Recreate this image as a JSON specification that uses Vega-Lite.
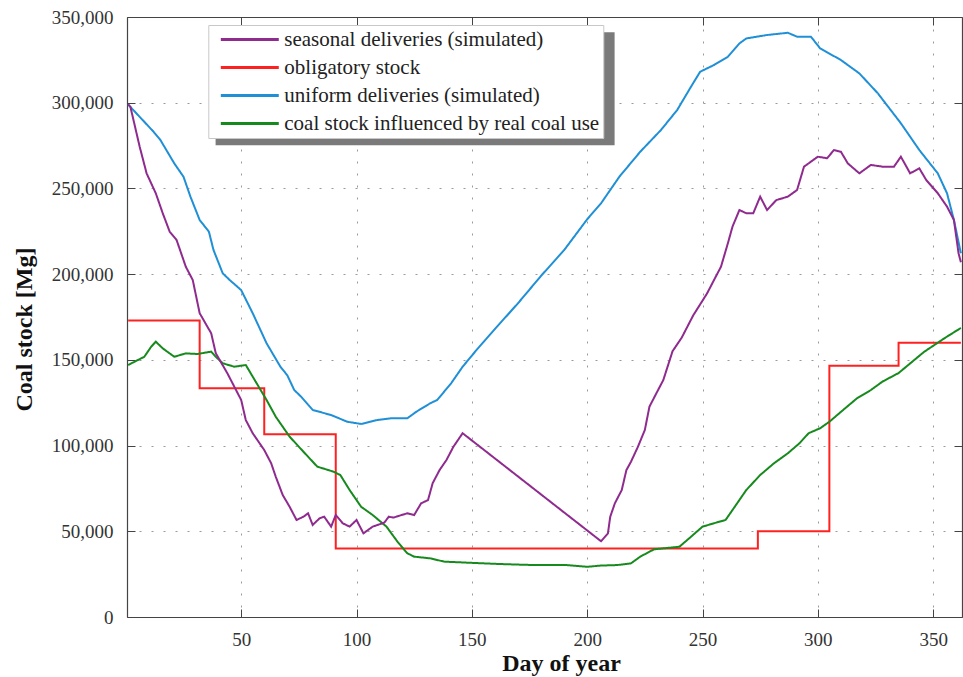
{
  "$schema": "https://vega.github.io/schema/vega-lite/v6.json",
  "width": 835,
  "height": 600,
  "autosize": {"type": "none"},
  "padding": {"left": 127, "top": 17, "right": 1, "bottom": 60},
  "background": "white",
  "config": {"view": {"stroke": null}, "font": "Liberation Serif"},
  "datasets": {
    "obligatory": [
      {"day": 1, "value": 173000, "series": "obligatory stock"},
      {"day": 32, "value": 133500, "series": "obligatory stock"},
      {"day": 60, "value": 106600, "series": "obligatory stock"},
      {"day": 91, "value": 40000, "series": "obligatory stock"},
      {"day": 274, "value": 50000, "series": "obligatory stock"},
      {"day": 305, "value": 146500, "series": "obligatory stock"},
      {"day": 335, "value": 160000, "series": "obligatory stock"},
      {"day": 362, "value": 160000, "series": "obligatory stock"}
    ],
    "curves": [
      {"day": 1, "value": 299000, "series": "uniform deliveries (simulated)"},
      {"day": 2, "value": 297500, "series": "uniform deliveries (simulated)"},
      {"day": 12, "value": 283100, "series": "uniform deliveries (simulated)"},
      {"day": 15, "value": 278200, "series": "uniform deliveries (simulated)"},
      {"day": 21, "value": 264600, "series": "uniform deliveries (simulated)"},
      {"day": 25, "value": 256800, "series": "uniform deliveries (simulated)"},
      {"day": 28, "value": 245200, "series": "uniform deliveries (simulated)"},
      {"day": 32, "value": 231600, "series": "uniform deliveries (simulated)"},
      {"day": 36, "value": 224800, "series": "uniform deliveries (simulated)"},
      {"day": 38, "value": 214100, "series": "uniform deliveries (simulated)"},
      {"day": 42, "value": 200500, "series": "uniform deliveries (simulated)"},
      {"day": 45, "value": 196600, "series": "uniform deliveries (simulated)"},
      {"day": 50, "value": 190700, "series": "uniform deliveries (simulated)"},
      {"day": 55, "value": 177200, "series": "uniform deliveries (simulated)"},
      {"day": 61, "value": 159700, "series": "uniform deliveries (simulated)"},
      {"day": 67, "value": 146000, "series": "uniform deliveries (simulated)"},
      {"day": 70, "value": 141000, "series": "uniform deliveries (simulated)"},
      {"day": 73, "value": 132400, "series": "uniform deliveries (simulated)"},
      {"day": 76, "value": 128500, "series": "uniform deliveries (simulated)"},
      {"day": 81, "value": 120800, "series": "uniform deliveries (simulated)"},
      {"day": 89, "value": 117800, "series": "uniform deliveries (simulated)"},
      {"day": 96, "value": 113900, "series": "uniform deliveries (simulated)"},
      {"day": 102, "value": 112600, "series": "uniform deliveries (simulated)"},
      {"day": 109, "value": 114900, "series": "uniform deliveries (simulated)"},
      {"day": 115, "value": 115900, "series": "uniform deliveries (simulated)"},
      {"day": 122, "value": 115900, "series": "uniform deliveries (simulated)"},
      {"day": 126, "value": 119800, "series": "uniform deliveries (simulated)"},
      {"day": 132, "value": 124700, "series": "uniform deliveries (simulated)"},
      {"day": 135, "value": 126600, "series": "uniform deliveries (simulated)"},
      {"day": 141, "value": 136300, "series": "uniform deliveries (simulated)"},
      {"day": 146, "value": 146000, "series": "uniform deliveries (simulated)"},
      {"day": 152, "value": 155700, "series": "uniform deliveries (simulated)"},
      {"day": 160, "value": 168000, "series": "uniform deliveries (simulated)"},
      {"day": 170, "value": 183000, "series": "uniform deliveries (simulated)"},
      {"day": 180, "value": 199000, "series": "uniform deliveries (simulated)"},
      {"day": 190, "value": 214000, "series": "uniform deliveries (simulated)"},
      {"day": 200, "value": 232000, "series": "uniform deliveries (simulated)"},
      {"day": 206, "value": 241300, "series": "uniform deliveries (simulated)"},
      {"day": 214, "value": 256900, "series": "uniform deliveries (simulated)"},
      {"day": 223, "value": 271400, "series": "uniform deliveries (simulated)"},
      {"day": 232, "value": 284100, "series": "uniform deliveries (simulated)"},
      {"day": 239, "value": 295700, "series": "uniform deliveries (simulated)"},
      {"day": 245, "value": 309300, "series": "uniform deliveries (simulated)"},
      {"day": 249, "value": 318100, "series": "uniform deliveries (simulated)"},
      {"day": 255, "value": 322000, "series": "uniform deliveries (simulated)"},
      {"day": 261, "value": 326800, "series": "uniform deliveries (simulated)"},
      {"day": 266, "value": 334600, "series": "uniform deliveries (simulated)"},
      {"day": 269, "value": 337500, "series": "uniform deliveries (simulated)"},
      {"day": 278, "value": 339500, "series": "uniform deliveries (simulated)"},
      {"day": 287, "value": 340800, "series": "uniform deliveries (simulated)"},
      {"day": 291, "value": 338500, "series": "uniform deliveries (simulated)"},
      {"day": 297, "value": 338500, "series": "uniform deliveries (simulated)"},
      {"day": 301, "value": 331700, "series": "uniform deliveries (simulated)"},
      {"day": 310, "value": 324900, "series": "uniform deliveries (simulated)"},
      {"day": 318, "value": 317100, "series": "uniform deliveries (simulated)"},
      {"day": 326, "value": 305500, "series": "uniform deliveries (simulated)"},
      {"day": 336, "value": 288000, "series": "uniform deliveries (simulated)"},
      {"day": 344, "value": 272400, "series": "uniform deliveries (simulated)"},
      {"day": 352, "value": 258800, "series": "uniform deliveries (simulated)"},
      {"day": 356, "value": 247200, "series": "uniform deliveries (simulated)"},
      {"day": 359, "value": 231600, "series": "uniform deliveries (simulated)"},
      {"day": 362, "value": 212200, "series": "uniform deliveries (simulated)"},

      {"day": 1, "value": 147000, "series": "coal stock influenced by real coal use"},
      {"day": 8, "value": 151800, "series": "coal stock influenced by real coal use"},
      {"day": 11, "value": 157700, "series": "coal stock influenced by real coal use"},
      {"day": 13, "value": 160600, "series": "coal stock influenced by real coal use"},
      {"day": 16, "value": 156700, "series": "coal stock influenced by real coal use"},
      {"day": 21, "value": 151800, "series": "coal stock influenced by real coal use"},
      {"day": 26, "value": 153800, "series": "coal stock influenced by real coal use"},
      {"day": 31, "value": 153400, "series": "coal stock influenced by real coal use"},
      {"day": 37, "value": 154800, "series": "coal stock influenced by real coal use"},
      {"day": 39, "value": 151800, "series": "coal stock influenced by real coal use"},
      {"day": 42, "value": 148000, "series": "coal stock influenced by real coal use"},
      {"day": 47, "value": 146000, "series": "coal stock influenced by real coal use"},
      {"day": 52, "value": 147000, "series": "coal stock influenced by real coal use"},
      {"day": 55, "value": 140200, "series": "coal stock influenced by real coal use"},
      {"day": 61, "value": 126600, "series": "coal stock influenced by real coal use"},
      {"day": 65, "value": 116800, "series": "coal stock influenced by real coal use"},
      {"day": 71, "value": 105200, "series": "coal stock influenced by real coal use"},
      {"day": 77, "value": 96400, "series": "coal stock influenced by real coal use"},
      {"day": 83, "value": 87700, "series": "coal stock influenced by real coal use"},
      {"day": 90, "value": 84800, "series": "coal stock influenced by real coal use"},
      {"day": 93, "value": 82800, "series": "coal stock influenced by real coal use"},
      {"day": 97, "value": 74100, "series": "coal stock influenced by real coal use"},
      {"day": 102, "value": 64300, "series": "coal stock influenced by real coal use"},
      {"day": 107, "value": 59500, "series": "coal stock influenced by real coal use"},
      {"day": 113, "value": 52700, "series": "coal stock influenced by real coal use"},
      {"day": 118, "value": 43500, "series": "coal stock influenced by real coal use"},
      {"day": 122, "value": 37200, "series": "coal stock influenced by real coal use"},
      {"day": 125, "value": 35200, "series": "coal stock influenced by real coal use"},
      {"day": 132, "value": 34200, "series": "coal stock influenced by real coal use"},
      {"day": 138, "value": 32300, "series": "coal stock influenced by real coal use"},
      {"day": 148, "value": 31700, "series": "coal stock influenced by real coal use"},
      {"day": 162, "value": 30900, "series": "coal stock influenced by real coal use"},
      {"day": 177, "value": 30300, "series": "coal stock influenced by real coal use"},
      {"day": 191, "value": 30300, "series": "coal stock influenced by real coal use"},
      {"day": 200, "value": 29300, "series": "coal stock influenced by real coal use"},
      {"day": 206, "value": 30000, "series": "coal stock influenced by real coal use"},
      {"day": 213, "value": 30300, "series": "coal stock influenced by real coal use"},
      {"day": 219, "value": 31300, "series": "coal stock influenced by real coal use"},
      {"day": 223, "value": 35200, "series": "coal stock influenced by real coal use"},
      {"day": 229, "value": 39500, "series": "coal stock influenced by real coal use"},
      {"day": 240, "value": 41000, "series": "coal stock influenced by real coal use"},
      {"day": 245, "value": 46800, "series": "coal stock influenced by real coal use"},
      {"day": 250, "value": 52700, "series": "coal stock influenced by real coal use"},
      {"day": 255, "value": 54700, "series": "coal stock influenced by real coal use"},
      {"day": 260, "value": 56600, "series": "coal stock influenced by real coal use"},
      {"day": 263, "value": 62400, "series": "coal stock influenced by real coal use"},
      {"day": 269, "value": 74100, "series": "coal stock influenced by real coal use"},
      {"day": 275, "value": 82800, "series": "coal stock influenced by real coal use"},
      {"day": 281, "value": 89700, "series": "coal stock influenced by real coal use"},
      {"day": 287, "value": 95500, "series": "coal stock influenced by real coal use"},
      {"day": 292, "value": 101300, "series": "coal stock influenced by real coal use"},
      {"day": 296, "value": 107200, "series": "coal stock influenced by real coal use"},
      {"day": 301, "value": 110100, "series": "coal stock influenced by real coal use"},
      {"day": 305, "value": 113900, "series": "coal stock influenced by real coal use"},
      {"day": 311, "value": 120800, "series": "coal stock influenced by real coal use"},
      {"day": 317, "value": 127600, "series": "coal stock influenced by real coal use"},
      {"day": 323, "value": 132400, "series": "coal stock influenced by real coal use"},
      {"day": 328, "value": 137300, "series": "coal stock influenced by real coal use"},
      {"day": 335, "value": 142300, "series": "coal stock influenced by real coal use"},
      {"day": 346, "value": 154600, "series": "coal stock influenced by real coal use"},
      {"day": 355, "value": 162700, "series": "coal stock influenced by real coal use"},
      {"day": 362, "value": 168600, "series": "coal stock influenced by real coal use"},

      {"day": 1, "value": 299000, "series": "seasonal deliveries (simulated)"},
      {"day": 2, "value": 297500, "series": "seasonal deliveries (simulated)"},
      {"day": 6, "value": 274300, "series": "seasonal deliveries (simulated)"},
      {"day": 9, "value": 258800, "series": "seasonal deliveries (simulated)"},
      {"day": 13, "value": 247100, "series": "seasonal deliveries (simulated)"},
      {"day": 16, "value": 235500, "series": "seasonal deliveries (simulated)"},
      {"day": 19, "value": 224800, "series": "seasonal deliveries (simulated)"},
      {"day": 22, "value": 219900, "series": "seasonal deliveries (simulated)"},
      {"day": 26, "value": 204300, "series": "seasonal deliveries (simulated)"},
      {"day": 29, "value": 196600, "series": "seasonal deliveries (simulated)"},
      {"day": 32, "value": 177200, "series": "seasonal deliveries (simulated)"},
      {"day": 37, "value": 165500, "series": "seasonal deliveries (simulated)"},
      {"day": 39, "value": 153800, "series": "seasonal deliveries (simulated)"},
      {"day": 44, "value": 142200, "series": "seasonal deliveries (simulated)"},
      {"day": 50, "value": 126600, "series": "seasonal deliveries (simulated)"},
      {"day": 52, "value": 114900, "series": "seasonal deliveries (simulated)"},
      {"day": 55, "value": 107200, "series": "seasonal deliveries (simulated)"},
      {"day": 60, "value": 97400, "series": "seasonal deliveries (simulated)"},
      {"day": 63, "value": 89700, "series": "seasonal deliveries (simulated)"},
      {"day": 65, "value": 81800, "series": "seasonal deliveries (simulated)"},
      {"day": 68, "value": 71200, "series": "seasonal deliveries (simulated)"},
      {"day": 71, "value": 64300, "series": "seasonal deliveries (simulated)"},
      {"day": 74, "value": 56600, "series": "seasonal deliveries (simulated)"},
      {"day": 77, "value": 58500, "series": "seasonal deliveries (simulated)"},
      {"day": 79, "value": 60500, "series": "seasonal deliveries (simulated)"},
      {"day": 81, "value": 53700, "series": "seasonal deliveries (simulated)"},
      {"day": 84, "value": 57600, "series": "seasonal deliveries (simulated)"},
      {"day": 86, "value": 58500, "series": "seasonal deliveries (simulated)"},
      {"day": 89, "value": 52700, "series": "seasonal deliveries (simulated)"},
      {"day": 91, "value": 59500, "series": "seasonal deliveries (simulated)"},
      {"day": 94, "value": 54700, "series": "seasonal deliveries (simulated)"},
      {"day": 97, "value": 52700, "series": "seasonal deliveries (simulated)"},
      {"day": 100, "value": 56600, "series": "seasonal deliveries (simulated)"},
      {"day": 103, "value": 48800, "series": "seasonal deliveries (simulated)"},
      {"day": 107, "value": 52700, "series": "seasonal deliveries (simulated)"},
      {"day": 112, "value": 55000, "series": "seasonal deliveries (simulated)"},
      {"day": 114, "value": 58500, "series": "seasonal deliveries (simulated)"},
      {"day": 116, "value": 58000, "series": "seasonal deliveries (simulated)"},
      {"day": 122, "value": 60500, "series": "seasonal deliveries (simulated)"},
      {"day": 125, "value": 59500, "series": "seasonal deliveries (simulated)"},
      {"day": 128, "value": 66300, "series": "seasonal deliveries (simulated)"},
      {"day": 131, "value": 68200, "series": "seasonal deliveries (simulated)"},
      {"day": 133, "value": 78000, "series": "seasonal deliveries (simulated)"},
      {"day": 136, "value": 85700, "series": "seasonal deliveries (simulated)"},
      {"day": 139, "value": 91600, "series": "seasonal deliveries (simulated)"},
      {"day": 142, "value": 99300, "series": "seasonal deliveries (simulated)"},
      {"day": 146, "value": 107200, "series": "seasonal deliveries (simulated)"},
      {"day": 206, "value": 44200, "series": "seasonal deliveries (simulated)"},
      {"day": 209, "value": 48800, "series": "seasonal deliveries (simulated)"},
      {"day": 210, "value": 58500, "series": "seasonal deliveries (simulated)"},
      {"day": 212, "value": 66300, "series": "seasonal deliveries (simulated)"},
      {"day": 215, "value": 74100, "series": "seasonal deliveries (simulated)"},
      {"day": 217, "value": 85700, "series": "seasonal deliveries (simulated)"},
      {"day": 219, "value": 90600, "series": "seasonal deliveries (simulated)"},
      {"day": 222, "value": 99300, "series": "seasonal deliveries (simulated)"},
      {"day": 225, "value": 109100, "series": "seasonal deliveries (simulated)"},
      {"day": 227, "value": 122700, "series": "seasonal deliveries (simulated)"},
      {"day": 230, "value": 130500, "series": "seasonal deliveries (simulated)"},
      {"day": 233, "value": 138200, "series": "seasonal deliveries (simulated)"},
      {"day": 237, "value": 155000, "series": "seasonal deliveries (simulated)"},
      {"day": 241, "value": 163000, "series": "seasonal deliveries (simulated)"},
      {"day": 246, "value": 176000, "series": "seasonal deliveries (simulated)"},
      {"day": 252, "value": 188800, "series": "seasonal deliveries (simulated)"},
      {"day": 255, "value": 196600, "series": "seasonal deliveries (simulated)"},
      {"day": 258, "value": 204300, "series": "seasonal deliveries (simulated)"},
      {"day": 261, "value": 218000, "series": "seasonal deliveries (simulated)"},
      {"day": 263, "value": 227700, "series": "seasonal deliveries (simulated)"},
      {"day": 266, "value": 237400, "series": "seasonal deliveries (simulated)"},
      {"day": 269, "value": 235500, "series": "seasonal deliveries (simulated)"},
      {"day": 272, "value": 235500, "series": "seasonal deliveries (simulated)"},
      {"day": 275, "value": 245200, "series": "seasonal deliveries (simulated)"},
      {"day": 278, "value": 237400, "series": "seasonal deliveries (simulated)"},
      {"day": 282, "value": 243200, "series": "seasonal deliveries (simulated)"},
      {"day": 287, "value": 245200, "series": "seasonal deliveries (simulated)"},
      {"day": 291, "value": 249100, "series": "seasonal deliveries (simulated)"},
      {"day": 294, "value": 262700, "series": "seasonal deliveries (simulated)"},
      {"day": 300, "value": 268500, "series": "seasonal deliveries (simulated)"},
      {"day": 304, "value": 267600, "series": "seasonal deliveries (simulated)"},
      {"day": 307, "value": 272400, "series": "seasonal deliveries (simulated)"},
      {"day": 310, "value": 271400, "series": "seasonal deliveries (simulated)"},
      {"day": 313, "value": 264600, "series": "seasonal deliveries (simulated)"},
      {"day": 318, "value": 258800, "series": "seasonal deliveries (simulated)"},
      {"day": 323, "value": 263700, "series": "seasonal deliveries (simulated)"},
      {"day": 328, "value": 262700, "series": "seasonal deliveries (simulated)"},
      {"day": 333, "value": 262700, "series": "seasonal deliveries (simulated)"},
      {"day": 336, "value": 268500, "series": "seasonal deliveries (simulated)"},
      {"day": 340, "value": 258800, "series": "seasonal deliveries (simulated)"},
      {"day": 344, "value": 261700, "series": "seasonal deliveries (simulated)"},
      {"day": 347, "value": 254900, "series": "seasonal deliveries (simulated)"},
      {"day": 352, "value": 247200, "series": "seasonal deliveries (simulated)"},
      {"day": 356, "value": 239400, "series": "seasonal deliveries (simulated)"},
      {"day": 359, "value": 231600, "series": "seasonal deliveries (simulated)"},
      {"day": 361, "value": 212200, "series": "seasonal deliveries (simulated)"},
      {"day": 362, "value": 207000, "series": "seasonal deliveries (simulated)"}
    ]
  },
  "layer": [
    {
      "data": {"name": "obligatory"},
      "mark": {"type": "line", "interpolate": "step-after", "strokeWidth": 2, "clip": true},
      "encoding": {
        "x": {
          "field": "day", "type": "quantitative",
          "scale": {"domain": [0.5, 362.5], "nice": false, "zero": false},
          "axis": {
            "orient": "bottom", "values": [50, 100, 150, 200, 250, 300, 350],
            "grid": true, "gridDash": [2, 10], "gridColor": "#9a9a9a", "gridWidth": 1,
            "tickSize": -8, "tickColor": "#444", "domainColor": "#444", "domainWidth": 1.2,
            "labelPadding": 21, "labelFontSize": 19, "labelColor": "#333", "labelFont": "Liberation Serif",
            "title": "Day of year", "titleFont": "Liberation Serif", "titleFontSize": 24, "titleFontWeight": "bold",
            "titleColor": "#111", "titleX": 434, "titleY": 53, "titleBaseline": "alphabetic"
          }
        },
        "y": {
          "field": "value", "type": "quantitative",
          "scale": {"domain": [0, 350000], "nice": false},
          "axis": {
            "orient": "left", "values": [0, 50000, 100000, 150000, 200000, 250000, 300000, 350000], "format": ",d",
            "grid": true, "gridDash": [2, 10], "gridColor": "#9a9a9a", "gridWidth": 1,
            "tickSize": -8, "tickColor": "#444", "domainColor": "#444", "domainWidth": 1.2,
            "labelPadding": 22, "labelFontSize": 19, "labelColor": "#333", "labelFont": "Liberation Serif",
            "title": "Coal stock [Mg]", "titleFont": "Liberation Serif", "titleFontSize": 24, "titleFontWeight": "bold",
            "titleColor": "#111", "titleX": -96, "titleY": 312, "titleBaseline": "alphabetic", "titleAngle": 270
          }
        },
        "color": {
          "field": "series", "type": "nominal",
          "scale": {
            "domain": ["seasonal deliveries (simulated)", "obligatory stock", "uniform deliveries (simulated)", "coal stock influenced by real coal use"],
            "range": ["#8f2a8e", "#ff2020", "#1f8fd6", "#178a1e"]
          },
          "legend": {
            "title": null, "orient": "none", "legendX": 81.3, "legendY": 8, "zindex": 2,
            "fillColor": "white", "strokeColor": "#c8c8c8", "padding": 4,
            "labelFont": "Liberation Serif", "labelFontSize": 21, "labelColor": "#222", "labelLimit": 0,
            "symbolType": "M-4.14,0H4.14", "symbolSize": 196, "symbolStrokeWidth": 3,
            "symbolOffset": 27, "labelOffset": 24, "rowPadding": 6
          }
        },
        "strokeDash": {
          "field": "series", "type": "nominal",
          "scale": {"range": [[1, 0], [1, 0], [1, 0], [1, 0]]},
          "legend": {
            "title": null, "orient": "none", "legendX": 88.6, "legendY": 15.3, "zindex": 1,
            "fillColor": "#7a7a7a", "padding": 4,
            "labelFont": "Liberation Serif", "labelFontSize": 21, "labelExpr": "''", "labelLimit": 0,
            "symbolType": "M-27.8,0H27.8", "symbolSize": 196, "symbolStrokeWidth": 3, "symbolStrokeColor": "transparent", "symbolOpacity": 0,
            "symbolOffset": 185, "labelOffset": 0, "rowPadding": 6
          }
        }
      }
    },
    {
      "data": {"name": "curves"},
      "mark": {"type": "line", "strokeWidth": 2, "clip": true},
      "encoding": {
        "x": {
          "field": "day", "type": "quantitative",
          "scale": {"domain": [0.5, 362.5], "nice": false, "zero": false},
          "axis": {
            "orient": "top", "values": [50, 100, 150, 200, 250, 300, 350],
            "grid": false, "labels": false, "title": null,
            "tickSize": -8, "tickColor": "#444", "domainColor": "#444", "domainWidth": 1.2
          }
        },
        "y": {
          "field": "value", "type": "quantitative",
          "scale": {"domain": [0, 350000], "nice": false},
          "axis": {
            "orient": "right", "values": [0, 50000, 100000, 150000, 200000, 250000, 300000, 350000],
            "grid": false, "labels": false, "title": null,
            "tickSize": -8, "tickColor": "#444", "domainColor": "#444", "domainWidth": 1.2
          }
        },
        "color": {
          "field": "series", "type": "nominal",
          "scale": {
            "domain": ["seasonal deliveries (simulated)", "obligatory stock", "uniform deliveries (simulated)", "coal stock influenced by real coal use"],
            "range": ["#8f2a8e", "#ff2020", "#1f8fd6", "#178a1e"]
          },
          "legend": {
            "title": null, "orient": "none", "legendX": 81.3, "legendY": 8, "zindex": 2,
            "fillColor": "white", "strokeColor": "#c8c8c8", "padding": 4,
            "labelFont": "Liberation Serif", "labelFontSize": 21, "labelColor": "#222", "labelLimit": 0,
            "symbolType": "M-4.14,0H4.14", "symbolSize": 196, "symbolStrokeWidth": 3,
            "symbolOffset": 27, "labelOffset": 24, "rowPadding": 6
          }
        },
        "strokeDash": {
          "field": "series", "type": "nominal",
          "scale": {"range": [[1, 0], [1, 0], [1, 0], [1, 0]]},
          "legend": {
            "title": null, "orient": "none", "legendX": 88.6, "legendY": 15.3, "zindex": 1,
            "fillColor": "#7a7a7a", "padding": 4,
            "labelFont": "Liberation Serif", "labelFontSize": 21, "labelExpr": "''", "labelLimit": 0,
            "symbolType": "M-27.8,0H27.8", "symbolSize": 196, "symbolStrokeWidth": 3, "symbolStrokeColor": "transparent", "symbolOpacity": 0,
            "symbolOffset": 185, "labelOffset": 0, "rowPadding": 6
          }
        }
      }
    }
  ],
  "resolve": {"axis": {"x": "independent", "y": "independent"}}
}
